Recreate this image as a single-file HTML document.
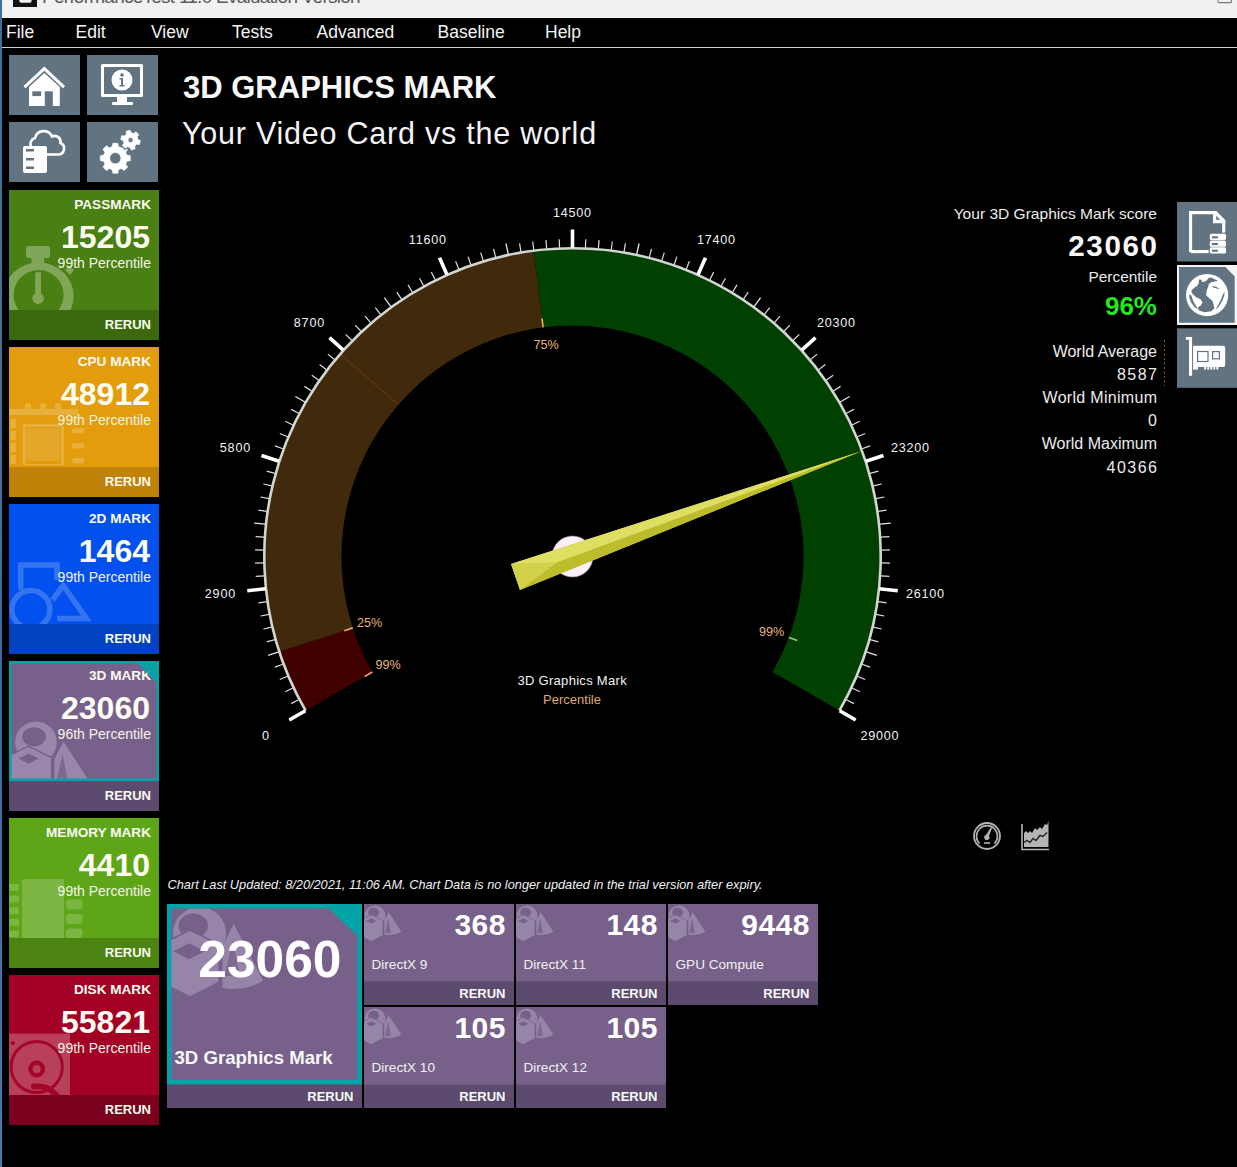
<!DOCTYPE html>
<html><head><meta charset="utf-8"><title>PerformanceTest - 3D Graphics Mark</title>
<style>html,body{margin:0;padding:0;background:#000;width:1237px;height:1167px;overflow:hidden}svg{display:block}</style></head><body>
<svg width="1237" height="1167" viewBox="0 0 1237 1167" font-family='"Liberation Sans", Arial, sans-serif'>
<defs>
<linearGradient id="strip" x1="0" y1="0" x2="0" y2="1"><stop offset="0" stop-color="#3d6fa0"/><stop offset="0.3" stop-color="#4a6f95"/><stop offset="0.6" stop-color="#3a6aa0"/><stop offset="1" stop-color="#4a78a8"/></linearGradient>
<clipPath id="tc0"><rect x="9" y="190" width="150" height="120"/></clipPath>
<clipPath id="tc1"><rect x="9" y="347" width="150" height="120"/></clipPath>
<clipPath id="tc2"><rect x="9" y="504" width="150" height="120"/></clipPath>
<clipPath id="tc3"><rect x="9" y="661" width="150" height="120"/></clipPath>
<clipPath id="tc4"><rect x="9" y="818" width="150" height="120"/></clipPath>
<clipPath id="tc5"><rect x="9" y="975" width="150" height="120"/></clipPath>
</defs>
<rect width="1237" height="1167" fill="#000"/>
<rect x="0" y="0" width="2" height="1167" fill="url(#strip)"/>
<rect x="2" y="0" width="1235" height="18" fill="#f1f1f1"/>
<rect x="13" y="0" width="24" height="7" fill="#111"/>
<path d="M19.3 0 h12.3 v1.5 l-1.5 1.3 h-9.3 l-1.5 -1.3z" fill="#f0f0f0"/>
<text x="42" y="2.6" font-size="19" fill="#5a5a5a" letter-spacing="-0.75">PerformanceTest 11.0 Evaluation Version</text>
<rect x="1218" y="-1" width="13.5" height="3.6" rx="0.8" fill="none" stroke="#7a7a7a" stroke-width="1.1"/>
<rect x="2" y="18" width="1235" height="29" fill="#000"/>
<rect x="2" y="47" width="1235" height="1" fill="#d0d0d0"/>
<text x="6" y="38" font-size="17.5" fill="#f4f4f4">File</text>
<text x="75.5" y="38" font-size="17.5" fill="#f4f4f4">Edit</text>
<text x="151" y="38" font-size="17.5" fill="#f4f4f4">View</text>
<text x="232" y="38" font-size="17.5" fill="#f4f4f4">Tests</text>
<text x="316.5" y="38" font-size="17.5" fill="#f4f4f4">Advanced</text>
<text x="437.5" y="38" font-size="17.5" fill="#f4f4f4">Baseline</text>
<text x="545" y="38" font-size="17.5" fill="#f4f4f4">Help</text>
<rect x="9" y="55" width="71" height="60" fill="#627482"/>
<rect x="87" y="55" width="71" height="60" fill="#627482"/>
<rect x="9" y="122" width="71" height="60" fill="#627482"/>
<rect x="87" y="122" width="71" height="60" fill="#627482"/>
<g fill="#fff"><path d="M44.3 66.5 L23.5 86 L25.5 88.5 L44.3 71 L63 88.5 L65 86 Z"/><path d="M29 87 L44.3 73 L59.8 87 V106 H29 Z"/></g>
<path d="M25.5 88.5 L44.3 71 L63 88.5" fill="none" stroke="#627482" stroke-width="0.8" opacity="0.7"/>
<rect x="32.3" y="91.3" width="8.8" height="4.8" fill="#627482"/>
<rect x="44.8" y="91.3" width="8" height="14.7" fill="#627482"/>
<g fill="#fff"><rect x="101" y="64" width="42" height="33" rx="1.5"/><rect x="117" y="97" width="10" height="5"/><rect x="112" y="102" width="21" height="3" rx="1"/></g>
<rect x="104" y="67" width="36" height="27" fill="#627482"/>
<circle cx="122" cy="80" r="10.5" fill="#fff"/>
<circle cx="122" cy="75" r="1.8" fill="#627482"/><path d="M119.5 78 h3.5 v7 h1.5 v1.5 h-5 v-1.5 h1.5 v-5.5 h-1.5z" fill="#627482"/>
<path d="M31 147 A6.5 6.5 0 0 1 35 138 A9 9 0 0 1 52 136.5 A6 6 0 0 1 60.5 143 A6 6 0 0 1 58 154.5 H47" fill="none" stroke="#fff" stroke-width="2.6"/>
<rect x="23" y="146" width="24" height="27" rx="2" fill="#fff"/>
<rect x="26" y="149" width="8" height="2.5" fill="#627482"/>
<rect x="26" y="158" width="8" height="2.5" fill="#627482"/>
<rect x="26" y="166.5" width="8" height="2.5" fill="#627482"/>
<path d="M112.19,146.61 L112.79,143.21 L117.81,143.21 L118.41,146.61 L121.30,147.81 L124.13,145.83 L127.67,149.37 L125.69,152.20 L126.89,155.09 L130.29,155.69 L130.29,160.71 L126.89,161.31 L125.69,164.20 L127.67,167.03 L124.13,170.57 L121.30,168.59 L118.41,169.79 L117.81,173.19 L112.79,173.19 L112.19,169.79 L109.30,168.59 L106.47,170.57 L102.93,167.03 L104.91,164.20 L103.71,161.31 L100.31,160.71 L100.31,155.69 L103.71,155.09 L104.91,152.20 L102.93,149.37 L106.47,145.83 L109.30,147.81 Z M120.89999999999999,158.2 a5.6,5.6 0 1 0 -11.2,0 a5.6,5.6 0 1 0 11.2,0 Z" fill="#fff" fill-rule="evenodd" stroke="#fff" stroke-width="0.6" stroke-linejoin="round"/>
<path d="M126.46,133.97 L126.11,131.28 L130.08,130.21 L131.12,132.72 L133.84,133.45 L135.99,131.80 L138.90,134.71 L137.25,136.86 L137.98,139.58 L140.49,140.62 L139.42,144.59 L136.73,144.24 L134.74,146.23 L135.09,148.92 L131.12,149.99 L130.08,147.48 L127.36,146.75 L125.21,148.40 L122.30,145.49 L123.95,143.34 L123.22,140.62 L120.71,139.58 L121.78,135.61 L124.47,135.96 Z" fill="#627482" stroke="#627482" stroke-width="3" stroke-linejoin="round"/>
<path d="M126.46,133.97 L126.11,131.28 L130.08,130.21 L131.12,132.72 L133.84,133.45 L135.99,131.80 L138.90,134.71 L137.25,136.86 L137.98,139.58 L140.49,140.62 L139.42,144.59 L136.73,144.24 L134.74,146.23 L135.09,148.92 L131.12,149.99 L130.08,147.48 L127.36,146.75 L125.21,148.40 L122.30,145.49 L123.95,143.34 L123.22,140.62 L120.71,139.58 L121.78,135.61 L124.47,135.96 Z M133.1,140.1 a2.5,2.5 0 1 0 -5.0,0 a2.5,2.5 0 1 0 5.0,0 Z" fill="#fff" fill-rule="evenodd" stroke="#fff" stroke-width="0.6" stroke-linejoin="round"/>
<rect x="9" y="190" width="150" height="150" fill="#4a8013"/>
<rect x="9" y="310" width="150" height="30" fill="#3c690c"/>
<g clip-path="url(#tc0)">
<g fill="#fff" opacity="0.3"><rect x="26" y="246" width="24" height="12" rx="2.5"/><rect x="31.5" y="257" width="12.6" height="6"/><path fill-rule="evenodd" d="M3.6 296.3 a35 34 0 1 1 70 0 a35 34 0 1 1 -70 0 Z M13.6 295 a25 25 0 1 0 50 0 a25 25 0 1 0 -50 0 Z"/><path d="M65 270 l5 -4 l4 4 l-4 5z"/><path d="M35.2 272.3 h5.8 v21 a5.8 5.8 0 1 1 -5.8 0z"/></g>
</g>
<text x="151" y="209" font-size="13.6" fill="#fafaf0" font-weight="700" text-anchor="end">PASSMARK</text>
<text x="150" y="248.3" font-size="32" fill="#fcfcf2" font-weight="700" text-anchor="end">15205</text>
<text x="151" y="268" font-size="14" fill="#f4f4e8" text-anchor="end">99th Percentile</text>
<text x="151" y="329" font-size="13" fill="#fafaf0" font-weight="700" text-anchor="end">RERUN</text>
<rect x="9" y="347" width="150" height="150" fill="#e29c0c"/>
<rect x="9" y="467" width="150" height="30" fill="#c08208"/>
<g clip-path="url(#tc1)">
<g fill="#fff" opacity="0.2"><path fill-rule="evenodd" d="M22.7 427 a3 3 0 0 1 3 -3 h35.2 a3 3 0 0 1 3 3 v38 h-41.2z M25.7 427 v37 h35.2 v-37z"/><rect x="26.5" y="428" width="33.5" height="33" rx="2" opacity="0.6"/><rect x="24.7" y="403" width="6.2" height="10" rx="2.5"/><rect x="39.9" y="403" width="6.2" height="10" rx="2.5"/><rect x="55" y="403" width="6.2" height="10" rx="2.5"/><rect x="9" y="409" width="69" height="6"/><rect x="72" y="428" width="12.5" height="5.5" rx="2.5"/><rect x="72" y="443" width="12.5" height="5.5" rx="2.5"/><rect x="72" y="458" width="12.5" height="5.5" rx="2.5"/><rect x="10.3" y="419" width="5.5" height="9"/><rect x="10.3" y="431" width="5.5" height="9"/><rect x="10.3" y="443" width="5.5" height="9"/><rect x="10.3" y="455" width="5.5" height="9"/></g>
</g>
<text x="151" y="366" font-size="13.6" fill="#fafaf0" font-weight="700" text-anchor="end">CPU MARK</text>
<text x="150" y="405.3" font-size="32" fill="#fcfcf2" font-weight="700" text-anchor="end">48912</text>
<text x="151" y="425" font-size="14" fill="#f4f4e8" text-anchor="end">99th Percentile</text>
<text x="151" y="486" font-size="13" fill="#fafaf0" font-weight="700" text-anchor="end">RERUN</text>
<rect x="9" y="504" width="150" height="150" fill="#0251ee"/>
<rect x="9" y="624" width="150" height="30" fill="#0243c4"/>
<g clip-path="url(#tc2)">
<g fill="none" stroke="#fff" stroke-width="5.5" opacity="0.2"><path d="M20.7 590 V565 H57 V580"/><circle cx="30.9" cy="609.5" r="19"/><path d="M52.5 600 L63.2 585.5 L86.5 618.6 H57"/></g>
</g>
<text x="151" y="523" font-size="13.6" fill="#fafaf0" font-weight="700" text-anchor="end">2D MARK</text>
<text x="150" y="562.3" font-size="32" fill="#fcfcf2" font-weight="700" text-anchor="end">1464</text>
<text x="151" y="582" font-size="14" fill="#f4f4e8" text-anchor="end">99th Percentile</text>
<text x="151" y="643" font-size="13" fill="#fafaf0" font-weight="700" text-anchor="end">RERUN</text>
<rect x="9" y="661" width="150" height="150" fill="#77618b"/>
<rect x="9" y="781" width="150" height="30" fill="#5c4b6e"/>
<g clip-path="url(#tc3)">
<g><g transform="translate(14,725) scale(2.0)"><circle cx="11" cy="8.6" r="10.4" fill="#9887ab"/><ellipse cx="10" cy="5.9" rx="5.9" ry="4.8" fill="#77618b"/><path d="M-4.5 16.4 L7.2 10.6 L18.9 16.4 V31.5 L7.2 37.4 L-4.5 31.5 Z" fill="#9887ab" stroke="#77618b" stroke-width="0.7"/><path d="M2.2 16.8 L7.3 14.200000000000001 L12.399999999999999 16.8 L7.3 19.400000000000002 Z" fill="#77618b"/><path d="M24.7 8.2 L37.3 27.6 Q30.299999999999997 32.1 20.2 30.6 L20.2 17 Z" fill="#9887ab"/><path d="M24.3 14.5 L27.1 29 L21 29 Z" fill="#77618b" opacity="0.8"/><line x1="19.6" y1="16.5" x2="19.6" y2="32" stroke="#77618b" stroke-width="0.8"/></g></g>
</g>
<path d="M10.3 781 V662.3 H157.7 V781" fill="none" stroke="#02a5a7" stroke-width="2.6"/>
<rect x="9" y="778.5" width="150" height="2.6" fill="#02a5a7"/>
<text x="151" y="680" font-size="13.6" fill="#fafaf0" font-weight="700" text-anchor="end">3D MARK</text>
<path d="M135.5 661 H159 V685.5 Z" fill="#02a6a7" opacity="0.9"/>
<text x="150" y="719.3" font-size="32" fill="#fcfcf2" font-weight="700" text-anchor="end">23060</text>
<text x="151" y="739" font-size="14" fill="#f4f4e8" text-anchor="end">96th Percentile</text>
<text x="151" y="800" font-size="13" fill="#fafaf0" font-weight="700" text-anchor="end">RERUN</text>
<rect x="9" y="818" width="150" height="150" fill="#5ea618"/>
<rect x="9" y="938" width="150" height="30" fill="#4c8412"/>
<g clip-path="url(#tc4)">
<g fill="#fff" opacity="0.18"><rect x="22" y="879" width="42" height="62" rx="2.5"/><rect x="9" y="884.0" width="10" height="7" rx="1.5"/><rect x="9" y="895.6" width="10" height="7" rx="1.5"/><rect x="9" y="907.2" width="10" height="7" rx="1.5"/><rect x="9" y="918.8" width="10" height="7" rx="1.5"/><rect x="9" y="930.4" width="10" height="7" rx="1.5"/><rect x="66" y="899.5" width="16.5" height="10" rx="3.5"/><rect x="66" y="914.0" width="16.5" height="10" rx="3.5"/><rect x="66" y="928.5" width="16.5" height="10" rx="3.5"/></g>
</g>
<text x="151" y="837" font-size="13.6" fill="#fafaf0" font-weight="700" text-anchor="end">MEMORY MARK</text>
<text x="150" y="876.3" font-size="32" fill="#fcfcf2" font-weight="700" text-anchor="end">4410</text>
<text x="151" y="896" font-size="14" fill="#f4f4e8" text-anchor="end">99th Percentile</text>
<text x="151" y="957" font-size="13" fill="#fafaf0" font-weight="700" text-anchor="end">RERUN</text>
<rect x="9" y="975" width="150" height="150" fill="#a20025"/>
<rect x="9" y="1095" width="150" height="30" fill="#7a001e"/>
<g clip-path="url(#tc5)">
<rect x="9" y="1033.6" width="61" height="61.4" fill="#fff" opacity="0.25"/>
<g fill="none" stroke="#a20025" opacity="0.9"><circle cx="36.7" cy="1067" r="25.6" stroke-width="3"/><circle cx="36.7" cy="1069" r="6.2" stroke-width="4.4"/><path d="M34 1086.5 Q48 1085 57 1096" stroke-width="6" stroke-linecap="round"/></g>
<circle cx="12.8" cy="1043" r="2" fill="#a20025"/>
</g>
<text x="151" y="994" font-size="13.6" fill="#fafaf0" font-weight="700" text-anchor="end">DISK MARK</text>
<text x="150" y="1033.3" font-size="32" fill="#fcfcf2" font-weight="700" text-anchor="end">55821</text>
<text x="151" y="1053" font-size="14" fill="#f4f4e8" text-anchor="end">99th Percentile</text>
<text x="151" y="1114" font-size="13" fill="#fafaf0" font-weight="700" text-anchor="end">RERUN</text>
<text x="183" y="98" font-size="31" fill="#f8f8f8" font-weight="700">3D GRAPHICS MARK</text>
<text x="182" y="143.5" font-size="30.5" fill="#f4f4f4" letter-spacing="0.77">Your Video Card vs the world</text>
<path d="M306.20 710.25 A307.5 307.5 0 0 1 280.05 651.52 L352.81 627.88 A231 231 0 0 0 372.45 672.00 Z" fill="#410000"/>
<path d="M280.05 651.52 A307.5 307.5 0 0 1 533.69 251.46 L543.35 327.35 A231 231 0 0 0 352.81 627.88 Z" fill="#41290b"/>
<path d="M533.69 251.46 A307.5 307.5 0 0 1 838.80 710.25 L772.55 672.00 A231 231 0 0 0 543.35 327.35 Z" fill="#004000"/>
<line x1="398.43" y1="404.65" x2="340.78" y2="354.36" stroke="#6a3c14" stroke-width="1.0" stroke-linecap="butt"/>
<path d="M305.59 710.60 A308.2 308.2 0 1 1 839.41 710.60" fill="none" stroke="#d2d6d0" stroke-width="2.6"/>
<line x1="305.33" y1="710.75" x2="289.31" y2="720.00" stroke="#ffffff" stroke-width="3.6" stroke-linecap="butt"/>
<line x1="298.66" y1="699.66" x2="291.13" y2="703.60" stroke="#dedede" stroke-width="1.2" stroke-linecap="butt"/>
<line x1="292.91" y1="688.07" x2="285.22" y2="691.68" stroke="#dedede" stroke-width="1.2" stroke-linecap="butt"/>
<line x1="287.64" y1="676.24" x2="279.81" y2="679.54" stroke="#dedede" stroke-width="1.2" stroke-linecap="butt"/>
<line x1="282.88" y1="664.21" x2="274.91" y2="667.17" stroke="#dedede" stroke-width="1.2" stroke-linecap="butt"/>
<line x1="278.62" y1="651.99" x2="268.16" y2="655.39" stroke="#e4e4e4" stroke-width="1.3" stroke-linecap="butt"/>
<line x1="274.88" y1="639.60" x2="266.70" y2="641.88" stroke="#dedede" stroke-width="1.2" stroke-linecap="butt"/>
<line x1="271.66" y1="627.06" x2="263.39" y2="629.00" stroke="#dedede" stroke-width="1.2" stroke-linecap="butt"/>
<line x1="268.97" y1="614.40" x2="260.62" y2="615.99" stroke="#dedede" stroke-width="1.2" stroke-linecap="butt"/>
<line x1="266.81" y1="601.64" x2="258.41" y2="602.88" stroke="#dedede" stroke-width="1.2" stroke-linecap="butt"/>
<line x1="265.69" y1="588.75" x2="247.29" y2="590.68" stroke="#ffffff" stroke-width="3.6" stroke-linecap="butt"/>
<line x1="264.11" y1="575.90" x2="255.63" y2="576.44" stroke="#dedede" stroke-width="1.2" stroke-linecap="butt"/>
<line x1="263.57" y1="562.97" x2="255.07" y2="563.15" stroke="#dedede" stroke-width="1.2" stroke-linecap="butt"/>
<line x1="263.57" y1="550.03" x2="255.07" y2="549.85" stroke="#dedede" stroke-width="1.2" stroke-linecap="butt"/>
<line x1="264.11" y1="537.10" x2="255.63" y2="536.56" stroke="#dedede" stroke-width="1.2" stroke-linecap="butt"/>
<line x1="265.19" y1="524.20" x2="254.25" y2="523.05" stroke="#e4e4e4" stroke-width="1.3" stroke-linecap="butt"/>
<line x1="266.81" y1="511.36" x2="258.41" y2="510.12" stroke="#dedede" stroke-width="1.2" stroke-linecap="butt"/>
<line x1="268.97" y1="498.60" x2="260.62" y2="497.01" stroke="#dedede" stroke-width="1.2" stroke-linecap="butt"/>
<line x1="271.66" y1="485.94" x2="263.39" y2="484.00" stroke="#dedede" stroke-width="1.2" stroke-linecap="butt"/>
<line x1="274.88" y1="473.40" x2="266.70" y2="471.12" stroke="#dedede" stroke-width="1.2" stroke-linecap="butt"/>
<line x1="279.10" y1="461.17" x2="261.50" y2="455.45" stroke="#ffffff" stroke-width="3.6" stroke-linecap="butt"/>
<line x1="282.88" y1="448.79" x2="274.91" y2="445.83" stroke="#dedede" stroke-width="1.2" stroke-linecap="butt"/>
<line x1="287.64" y1="436.76" x2="279.81" y2="433.46" stroke="#dedede" stroke-width="1.2" stroke-linecap="butt"/>
<line x1="292.91" y1="424.93" x2="285.22" y2="421.32" stroke="#dedede" stroke-width="1.2" stroke-linecap="butt"/>
<line x1="298.66" y1="413.34" x2="291.13" y2="409.40" stroke="#dedede" stroke-width="1.2" stroke-linecap="butt"/>
<line x1="304.90" y1="402.00" x2="295.37" y2="396.50" stroke="#e4e4e4" stroke-width="1.3" stroke-linecap="butt"/>
<line x1="311.60" y1="390.93" x2="304.43" y2="386.37" stroke="#dedede" stroke-width="1.2" stroke-linecap="butt"/>
<line x1="318.76" y1="380.15" x2="311.79" y2="375.30" stroke="#dedede" stroke-width="1.2" stroke-linecap="butt"/>
<line x1="326.37" y1="369.68" x2="319.60" y2="364.54" stroke="#dedede" stroke-width="1.2" stroke-linecap="butt"/>
<line x1="334.41" y1="359.54" x2="327.86" y2="354.12" stroke="#dedede" stroke-width="1.2" stroke-linecap="butt"/>
<line x1="343.24" y1="350.07" x2="329.49" y2="337.69" stroke="#ffffff" stroke-width="3.6" stroke-linecap="butt"/>
<line x1="351.73" y1="340.30" x2="345.65" y2="334.36" stroke="#dedede" stroke-width="1.2" stroke-linecap="butt"/>
<line x1="360.97" y1="331.25" x2="355.16" y2="325.05" stroke="#dedede" stroke-width="1.2" stroke-linecap="butt"/>
<line x1="370.59" y1="322.59" x2="365.04" y2="316.15" stroke="#dedede" stroke-width="1.2" stroke-linecap="butt"/>
<line x1="380.57" y1="314.34" x2="375.29" y2="307.68" stroke="#dedede" stroke-width="1.2" stroke-linecap="butt"/>
<line x1="390.87" y1="306.51" x2="384.41" y2="297.61" stroke="#e4e4e4" stroke-width="1.3" stroke-linecap="butt"/>
<line x1="401.50" y1="299.13" x2="396.80" y2="292.05" stroke="#dedede" stroke-width="1.2" stroke-linecap="butt"/>
<line x1="412.43" y1="292.19" x2="408.03" y2="284.92" stroke="#dedede" stroke-width="1.2" stroke-linecap="butt"/>
<line x1="423.64" y1="285.72" x2="419.54" y2="278.27" stroke="#dedede" stroke-width="1.2" stroke-linecap="butt"/>
<line x1="435.11" y1="279.73" x2="431.33" y2="272.11" stroke="#dedede" stroke-width="1.2" stroke-linecap="butt"/>
<line x1="447.02" y1="274.67" x2="439.50" y2="257.77" stroke="#ffffff" stroke-width="3.6" stroke-linecap="butt"/>
<line x1="458.75" y1="269.20" x2="455.62" y2="261.30" stroke="#dedede" stroke-width="1.2" stroke-linecap="butt"/>
<line x1="470.88" y1="264.69" x2="468.08" y2="256.66" stroke="#dedede" stroke-width="1.2" stroke-linecap="butt"/>
<line x1="483.19" y1="260.69" x2="480.73" y2="252.55" stroke="#dedede" stroke-width="1.2" stroke-linecap="butt"/>
<line x1="495.65" y1="257.21" x2="493.54" y2="248.97" stroke="#dedede" stroke-width="1.2" stroke-linecap="butt"/>
<line x1="508.26" y1="254.25" x2="505.97" y2="243.49" stroke="#e4e4e4" stroke-width="1.3" stroke-linecap="butt"/>
<line x1="520.97" y1="251.83" x2="519.55" y2="243.45" stroke="#dedede" stroke-width="1.2" stroke-linecap="butt"/>
<line x1="533.77" y1="249.94" x2="532.71" y2="241.50" stroke="#dedede" stroke-width="1.2" stroke-linecap="butt"/>
<line x1="546.64" y1="248.58" x2="545.93" y2="240.11" stroke="#dedede" stroke-width="1.2" stroke-linecap="butt"/>
<line x1="559.56" y1="247.77" x2="559.20" y2="239.28" stroke="#dedede" stroke-width="1.2" stroke-linecap="butt"/>
<line x1="572.50" y1="248.00" x2="572.50" y2="229.50" stroke="#ffffff" stroke-width="3.6" stroke-linecap="butt"/>
<line x1="585.44" y1="247.77" x2="585.80" y2="239.28" stroke="#dedede" stroke-width="1.2" stroke-linecap="butt"/>
<line x1="598.36" y1="248.58" x2="599.07" y2="240.11" stroke="#dedede" stroke-width="1.2" stroke-linecap="butt"/>
<line x1="611.23" y1="249.94" x2="612.29" y2="241.50" stroke="#dedede" stroke-width="1.2" stroke-linecap="butt"/>
<line x1="624.03" y1="251.83" x2="625.45" y2="243.45" stroke="#dedede" stroke-width="1.2" stroke-linecap="butt"/>
<line x1="636.74" y1="254.25" x2="639.03" y2="243.49" stroke="#e4e4e4" stroke-width="1.3" stroke-linecap="butt"/>
<line x1="649.35" y1="257.21" x2="651.46" y2="248.97" stroke="#dedede" stroke-width="1.2" stroke-linecap="butt"/>
<line x1="661.81" y1="260.69" x2="664.27" y2="252.55" stroke="#dedede" stroke-width="1.2" stroke-linecap="butt"/>
<line x1="674.12" y1="264.69" x2="676.92" y2="256.66" stroke="#dedede" stroke-width="1.2" stroke-linecap="butt"/>
<line x1="686.25" y1="269.20" x2="689.38" y2="261.30" stroke="#dedede" stroke-width="1.2" stroke-linecap="butt"/>
<line x1="697.98" y1="274.67" x2="705.50" y2="257.77" stroke="#ffffff" stroke-width="3.6" stroke-linecap="butt"/>
<line x1="709.89" y1="279.73" x2="713.67" y2="272.11" stroke="#dedede" stroke-width="1.2" stroke-linecap="butt"/>
<line x1="721.36" y1="285.72" x2="725.46" y2="278.27" stroke="#dedede" stroke-width="1.2" stroke-linecap="butt"/>
<line x1="732.57" y1="292.19" x2="736.97" y2="284.92" stroke="#dedede" stroke-width="1.2" stroke-linecap="butt"/>
<line x1="743.50" y1="299.13" x2="748.20" y2="292.05" stroke="#dedede" stroke-width="1.2" stroke-linecap="butt"/>
<line x1="754.13" y1="306.51" x2="760.59" y2="297.61" stroke="#e4e4e4" stroke-width="1.3" stroke-linecap="butt"/>
<line x1="764.43" y1="314.34" x2="769.71" y2="307.68" stroke="#dedede" stroke-width="1.2" stroke-linecap="butt"/>
<line x1="774.41" y1="322.59" x2="779.96" y2="316.15" stroke="#dedede" stroke-width="1.2" stroke-linecap="butt"/>
<line x1="784.03" y1="331.25" x2="789.84" y2="325.05" stroke="#dedede" stroke-width="1.2" stroke-linecap="butt"/>
<line x1="793.27" y1="340.30" x2="799.35" y2="334.36" stroke="#dedede" stroke-width="1.2" stroke-linecap="butt"/>
<line x1="801.76" y1="350.07" x2="815.51" y2="337.69" stroke="#ffffff" stroke-width="3.6" stroke-linecap="butt"/>
<line x1="810.59" y1="359.54" x2="817.14" y2="354.12" stroke="#dedede" stroke-width="1.2" stroke-linecap="butt"/>
<line x1="818.63" y1="369.68" x2="825.40" y2="364.54" stroke="#dedede" stroke-width="1.2" stroke-linecap="butt"/>
<line x1="826.24" y1="380.15" x2="833.21" y2="375.30" stroke="#dedede" stroke-width="1.2" stroke-linecap="butt"/>
<line x1="833.40" y1="390.93" x2="840.57" y2="386.37" stroke="#dedede" stroke-width="1.2" stroke-linecap="butt"/>
<line x1="840.10" y1="402.00" x2="849.63" y2="396.50" stroke="#e4e4e4" stroke-width="1.3" stroke-linecap="butt"/>
<line x1="846.34" y1="413.34" x2="853.87" y2="409.40" stroke="#dedede" stroke-width="1.2" stroke-linecap="butt"/>
<line x1="852.09" y1="424.93" x2="859.78" y2="421.32" stroke="#dedede" stroke-width="1.2" stroke-linecap="butt"/>
<line x1="857.36" y1="436.76" x2="865.19" y2="433.46" stroke="#dedede" stroke-width="1.2" stroke-linecap="butt"/>
<line x1="862.12" y1="448.79" x2="870.09" y2="445.83" stroke="#dedede" stroke-width="1.2" stroke-linecap="butt"/>
<line x1="865.90" y1="461.17" x2="883.50" y2="455.45" stroke="#ffffff" stroke-width="3.6" stroke-linecap="butt"/>
<line x1="870.12" y1="473.40" x2="878.30" y2="471.12" stroke="#dedede" stroke-width="1.2" stroke-linecap="butt"/>
<line x1="873.34" y1="485.94" x2="881.61" y2="484.00" stroke="#dedede" stroke-width="1.2" stroke-linecap="butt"/>
<line x1="876.03" y1="498.60" x2="884.38" y2="497.01" stroke="#dedede" stroke-width="1.2" stroke-linecap="butt"/>
<line x1="878.19" y1="511.36" x2="886.59" y2="510.12" stroke="#dedede" stroke-width="1.2" stroke-linecap="butt"/>
<line x1="879.81" y1="524.20" x2="890.75" y2="523.05" stroke="#e4e4e4" stroke-width="1.3" stroke-linecap="butt"/>
<line x1="880.89" y1="537.10" x2="889.37" y2="536.56" stroke="#dedede" stroke-width="1.2" stroke-linecap="butt"/>
<line x1="881.43" y1="550.03" x2="889.93" y2="549.85" stroke="#dedede" stroke-width="1.2" stroke-linecap="butt"/>
<line x1="881.43" y1="562.97" x2="889.93" y2="563.15" stroke="#dedede" stroke-width="1.2" stroke-linecap="butt"/>
<line x1="880.89" y1="575.90" x2="889.37" y2="576.44" stroke="#dedede" stroke-width="1.2" stroke-linecap="butt"/>
<line x1="879.31" y1="588.75" x2="897.71" y2="590.68" stroke="#ffffff" stroke-width="3.6" stroke-linecap="butt"/>
<line x1="878.19" y1="601.64" x2="886.59" y2="602.88" stroke="#dedede" stroke-width="1.2" stroke-linecap="butt"/>
<line x1="876.03" y1="614.40" x2="884.38" y2="615.99" stroke="#dedede" stroke-width="1.2" stroke-linecap="butt"/>
<line x1="873.34" y1="627.06" x2="881.61" y2="629.00" stroke="#dedede" stroke-width="1.2" stroke-linecap="butt"/>
<line x1="870.12" y1="639.60" x2="878.30" y2="641.88" stroke="#dedede" stroke-width="1.2" stroke-linecap="butt"/>
<line x1="866.38" y1="651.99" x2="876.84" y2="655.39" stroke="#e4e4e4" stroke-width="1.3" stroke-linecap="butt"/>
<line x1="862.12" y1="664.21" x2="870.09" y2="667.17" stroke="#dedede" stroke-width="1.2" stroke-linecap="butt"/>
<line x1="857.36" y1="676.24" x2="865.19" y2="679.54" stroke="#dedede" stroke-width="1.2" stroke-linecap="butt"/>
<line x1="852.09" y1="688.07" x2="859.78" y2="691.68" stroke="#dedede" stroke-width="1.2" stroke-linecap="butt"/>
<line x1="846.34" y1="699.66" x2="853.87" y2="703.60" stroke="#dedede" stroke-width="1.2" stroke-linecap="butt"/>
<line x1="839.67" y1="710.75" x2="855.69" y2="720.00" stroke="#ffffff" stroke-width="3.6" stroke-linecap="butt"/>
<text x="265.9" y="739.7" font-size="12.6" fill="#f2f2f2" text-anchor="middle" letter-spacing="0.8">0</text>
<text x="220.4" y="597.5" font-size="12.6" fill="#f2f2f2" text-anchor="middle" letter-spacing="0.8">2900</text>
<text x="235.4" y="452" font-size="12.6" fill="#f2f2f2" text-anchor="middle" letter-spacing="0.8">5800</text>
<text x="309.4" y="327" font-size="12.6" fill="#f2f2f2" text-anchor="middle" letter-spacing="0.8">8700</text>
<text x="427.9" y="243.5" font-size="12.6" fill="#f2f2f2" text-anchor="middle" letter-spacing="0.8">11600</text>
<text x="572.4" y="216.5" font-size="12.6" fill="#f2f2f2" text-anchor="middle" letter-spacing="0.8">14500</text>
<text x="716.4" y="243.5" font-size="12.6" fill="#f2f2f2" text-anchor="middle" letter-spacing="0.8">17400</text>
<text x="836.4" y="327" font-size="12.6" fill="#f2f2f2" text-anchor="middle" letter-spacing="0.8">20300</text>
<text x="910.4" y="452" font-size="12.6" fill="#f2f2f2" text-anchor="middle" letter-spacing="0.8">23200</text>
<text x="925.4" y="597.5" font-size="12.6" fill="#f2f2f2" text-anchor="middle" letter-spacing="0.8">26100</text>
<text x="879.9" y="739.7" font-size="12.6" fill="#f2f2f2" text-anchor="middle" letter-spacing="0.8">29000</text>
<line x1="352.81" y1="627.88" x2="344.25" y2="630.66" stroke="#e9a66a" stroke-width="1.6" stroke-linecap="butt"/>
<line x1="372.45" y1="672.00" x2="364.65" y2="676.50" stroke="#e9a66a" stroke-width="1.6" stroke-linecap="butt"/>
<line x1="543.15" y1="327.37" x2="542.00" y2="318.45" stroke="#e0b050" stroke-width="1.6" stroke-linecap="butt"/>
<line x1="788.87" y1="637.40" x2="797.30" y2="640.55" stroke="#9ccc7c" stroke-width="1.6" stroke-linecap="butt"/>
<text x="369.5" y="627" font-size="12.6" fill="#e8b47a" text-anchor="middle">25%</text>
<text x="388" y="668.5" font-size="12.6" fill="#e8b47a" text-anchor="middle">99%</text>
<text x="546" y="349" font-size="12.6" fill="#e8b47a" text-anchor="middle">75%</text>
<text x="771.5" y="635.5" font-size="12.6" fill="#e8b47a" text-anchor="middle">99%</text>
<text x="572.2" y="684.5" font-size="13" fill="#f2f2f2" text-anchor="middle" letter-spacing="0.3">3D Graphics Mark</text>
<text x="572" y="704" font-size="13" fill="#dcaa72" text-anchor="middle">Percentile</text>
<circle cx="572.5" cy="556.5" r="20.5" fill="#fcf0fc" stroke="#b080b0" stroke-width="0.6"/>
<path d="M511 564 L862 451 L520 590 Z" fill="#c8c83c"/>
<path d="M511 564 L862 451 L557 562.5 Z" fill="#dede62"/>
<path d="M520 590 L862 451 L557 562.5 Z" fill="#bcbc2c"/>
<path d="M511 564 L557 562.5 L520 590 Z" fill="#d2d24a"/>
<text x="1157" y="219" font-size="15.55" fill="#ececec" text-anchor="end">Your 3D Graphics Mark score</text>
<text x="1158.6" y="256.4" font-size="29.6" fill="#f8f8f8" font-weight="700" text-anchor="end" letter-spacing="1.6">23060</text>
<text x="1157" y="282" font-size="15.4" fill="#ececec" text-anchor="end">Percentile</text>
<text x="1157" y="315" font-size="26" fill="#24e624" font-weight="700" text-anchor="end">96%</text>
<text x="1157" y="357.2" font-size="16" fill="#ececec" text-anchor="end">World Average</text>
<text x="1158.5" y="380.4" font-size="16" fill="#ececec" text-anchor="end" letter-spacing="1.5">8587</text>
<text x="1157.3" y="403.2" font-size="16" fill="#ececec" text-anchor="end" letter-spacing="0.3">World Minimum</text>
<text x="1157" y="426.3" font-size="16" fill="#ececec" text-anchor="end">0</text>
<text x="1157" y="449.4" font-size="16" fill="#ececec" text-anchor="end">World Maximum</text>
<text x="1158.5" y="472.5" font-size="16" fill="#ececec" text-anchor="end" letter-spacing="1.5">40366</text>
<line x1="1164.5" y1="340" x2="1164.5" y2="386" stroke="#c07040" stroke-width="1" stroke-dasharray="2 2.5" opacity="0.8"/>
<rect x="1177" y="202" width="60" height="59.5" fill="#627482"/>
<rect x="1177" y="265" width="60" height="60" fill="#f4f4f4"/>
<path d="M1179 267 H1225.4 L1234.7 276.5 V322.8 H1179 Z" fill="#627482"/>
<rect x="1177" y="328.3" width="60" height="59.5" fill="#627482"/>
<path d="M1190.6 252 V212.6 H1215.5 L1223.7 221 V236" fill="none" stroke="#fff" stroke-width="3.1" stroke-linejoin="miter"/>
<path d="M1190.6 251.6 H1210" fill="none" stroke="#fff" stroke-width="3.1"/>
<path d="M1213 211 H1216 L1225.2 220.5 V223.2 H1213 Z" fill="#fff"/>
<path d="M1216.2 215.8 L1220.2 219.8 H1216.2 Z" fill="#627482"/>
<rect x="1208.6" y="232.6" width="18.4" height="22" fill="#627482"/>
<rect x="1209.8" y="233.8" width="16.2" height="6.3" rx="1.6" fill="#fff"/>
<rect x="1209.8" y="240.5" width="16.2" height="6.3" rx="1.6" fill="#fff"/>
<rect x="1209.8" y="247.2" width="16.2" height="6.3" rx="1.6" fill="#fff"/>
<rect x="1211.9" y="236.3" width="6" height="2.1" fill="#627482"/>
<rect x="1211.9" y="243" width="6" height="2.1" fill="#627482"/>
<rect x="1211.9" y="249.7" width="6" height="2.1" fill="#627482"/>
<circle cx="1207.1" cy="295.1" r="21.1" fill="#fff"/>
<g transform="translate(1180,268) scale(0.04885)" fill="#627482"><path d="M390 235 L440 240 L455 290 L540 262 L590 200 L640 195 L780 268 L700 275 L645 300 L590 330 L575 390 L545 470 L535 560 L600 620 L655 660 L685 730 L700 830 L640 885 L500 905 L380 865 L365 810 L430 760 L460 700 L420 640 L330 600 L245 515 L232 462 L300 400 L360 360 L385 300 Z"/><path d="M188 545 L232 565 L272 680 L342 800 L362 845 L300 805 L228 705 L192 610 Z"/><path d="M912 490 L905 565 L870 665 L800 785 L720 855 L778 760 L838 650 L878 545 Z"/><path d="M650 365 L720 378 L800 412 L792 432 L718 410 L660 388 Z"/></g>
<path d="M1210 283 c2 -2 5 -1 6 1 c-1 2 -3 3 -6 2 z" fill="#fff"/>
<path d="M1185.9 337 H1192.1 V375.8 H1189 V339.8 H1185.9 Z" fill="#fff"/>
<path d="M1193.1 345.7 H1223.2 a2 2 0 0 1 2 2 V365 a2 2 0 0 1 -2 2 H1193.1 Z" fill="#fff"/>
<path d="M1193.1 366 H1198 V369.6 H1193.1 Z" fill="#fff"/>
<rect x="1204.2" y="366.5" width="1.9" height="3.1" fill="#fff"/>
<rect x="1207.25" y="366.5" width="1.9" height="3.1" fill="#fff"/>
<rect x="1210.3" y="366.5" width="1.9" height="3.1" fill="#fff"/>
<rect x="1213.3500000000001" y="366.5" width="1.9" height="3.1" fill="#fff"/>
<rect x="1216.4" y="366.5" width="1.9" height="3.1" fill="#fff"/>
<rect x="1197.6" y="351.5" width="10.4" height="10" fill="none" stroke="#627482" stroke-width="1.2"/>
<rect x="1212.6" y="351.6" width="6.8" height="7.2" fill="none" stroke="#627482" stroke-width="1.2"/>
<text x="167.5" y="888.7" font-size="12.75" fill="#f0f0f0" font-style="italic">Chart Last Updated: 8/20/2021, 11:06 AM. Chart Data is no longer updated in the trial version after expiry.</text>
<g fill="none" stroke="#b4b4b4"><circle cx="987" cy="836" r="13" stroke-width="1.8"/><path d="M979.6 843.6 A10.5 10.5 0 1 1 994.4 843.6" stroke-width="1.6"/><line x1="984" y1="843" x2="990" y2="843" stroke-width="1.6"/></g>
<path d="M986 835 L991 827 L992 828 L989 836 a2.6 2.6 0 1 1 -3 -1z" fill="#b4b4b4"/>
<path d="M1022 824 V849.5 H1049" fill="none" stroke="#b4b4b4" stroke-width="1.6"/>
<path d="M1024 833 l2 -2 l2 2 l2 -2 l2 2 l3 -5 l2 2 l3 -3 l2 2 l3 -5 l2 1 l1.5 -4 V847 H1024 z" fill="#b4b4b4"/>
<path d="M1024 842.5 l3 -2 l3 2 l3 -4 l3 2 l4 -5 l3 1 l4 -4" fill="none" stroke="#2a2a2a" stroke-width="1.5"/>
<rect x="167" y="904" width="195" height="204" fill="#77618b"/>
<rect x="167" y="1084" width="195" height="24" fill="#5c4b6e"/>
<defs><clipPath id="bigc"><rect x="171" y="908.5" width="187" height="175.5"/></clipPath></defs>
<g clip-path="url(#bigc)"><g transform="translate(172,903.5) scale(2.5)"><circle cx="11" cy="12" r="10.6" fill="#9685a8"/><ellipse cx="8.5" cy="8.9" rx="5.9" ry="4.9" fill="#77618b"/><path d="M-4.5 16.4 L7.2 10.6 L18.9 16.4 V31.5 L7.2 37.4 L-4.5 31.5 Z" fill="#9685a8" stroke="#77618b" stroke-width="0.7"/><path d="M0.5 19.1 L6.8 15.900000000000002 L13.1 19.1 L6.8 22.3 Z" fill="#77618b"/><path d="M24.7 8.2 L36.4 30.8 Q29.4 35.3 20.2 33.8 L20.2 17 Z" fill="#9685a8"/><path d="M24.3 14.5 L27.1 29 L21 29 Z" fill="#77618b" opacity="0.8"/><line x1="19.6" y1="16.5" x2="19.6" y2="32" stroke="#77618b" stroke-width="0.8"/></g></g>
<path d="M169.25 1084 V906.25 H359.75 V1084" fill="none" stroke="#02a5a7" stroke-width="4.5"/>
<rect x="167" y="1080" width="195" height="4.5" fill="#02a5a7"/>
<path d="M329 908.5 H357.5 V936 Z" fill="#02a5a7"/>
<text x="341.5" y="977.3" font-size="51.5" fill="#ffffff" font-weight="700" text-anchor="end">23060</text>
<text x="174.5" y="1063.8" font-size="18.6" fill="#f8f8f8" font-weight="700">3D Graphics Mark</text>
<text x="353.5" y="1101" font-size="13" fill="#f8f8f8" font-weight="700" text-anchor="end">RERUN</text>
<rect x="364" y="904" width="150" height="101" fill="#77618b"/>
<rect x="364" y="981.5" width="150" height="23.5" fill="#5c4b6e"/>
<clipPath id="sc00"><rect x="364" y="904" width="150" height="77.5"/></clipPath>
<g clip-path="url(#sc00)"><g transform="translate(364,904) scale(1)"><circle cx="11" cy="12" r="10.5" fill="#9585a7"/><ellipse cx="9.6" cy="8.6" rx="5.4" ry="4.8" fill="#77618b"/><path d="M-4.5 16.4 L7.2 10.6 L18.9 16.4 V31.5 L7.2 37.4 L-4.5 31.5 Z" fill="#9585a7" stroke="#77618b" stroke-width="0.7"/><path d="M2.2 16.8 L7.3 14.200000000000001 L12.399999999999999 16.8 L7.3 19.400000000000002 Z" fill="#77618b"/><path d="M24.7 8.2 L37.3 27.6 Q30.299999999999997 32.1 20.2 30.6 L20.2 17 Z" fill="#9585a7"/><path d="M24.3 14.5 L27.1 29 L21 29 Z" fill="#77618b" opacity="0.8"/><line x1="19.6" y1="16.5" x2="19.6" y2="32" stroke="#77618b" stroke-width="0.8"/></g></g>
<text x="506" y="934.5" font-size="30" fill="#ffffff" font-weight="700" text-anchor="end" letter-spacing="0.5">368</text>
<text x="371.5" y="969.3" font-size="13.6" fill="#f0f0f0">DirectX 9</text>
<text x="505.5" y="998.3" font-size="13" fill="#f8f8f8" font-weight="700" text-anchor="end">RERUN</text>
<rect x="516" y="904" width="150" height="101" fill="#77618b"/>
<rect x="516" y="981.5" width="150" height="23.5" fill="#5c4b6e"/>
<clipPath id="sc10"><rect x="516" y="904" width="150" height="77.5"/></clipPath>
<g clip-path="url(#sc10)"><g transform="translate(516,904) scale(1)"><circle cx="11" cy="12" r="10.5" fill="#9585a7"/><ellipse cx="9.6" cy="8.6" rx="5.4" ry="4.8" fill="#77618b"/><path d="M-4.5 16.4 L7.2 10.6 L18.9 16.4 V31.5 L7.2 37.4 L-4.5 31.5 Z" fill="#9585a7" stroke="#77618b" stroke-width="0.7"/><path d="M2.2 16.8 L7.3 14.200000000000001 L12.399999999999999 16.8 L7.3 19.400000000000002 Z" fill="#77618b"/><path d="M24.7 8.2 L37.3 27.6 Q30.299999999999997 32.1 20.2 30.6 L20.2 17 Z" fill="#9585a7"/><path d="M24.3 14.5 L27.1 29 L21 29 Z" fill="#77618b" opacity="0.8"/><line x1="19.6" y1="16.5" x2="19.6" y2="32" stroke="#77618b" stroke-width="0.8"/></g></g>
<text x="658" y="934.5" font-size="30" fill="#ffffff" font-weight="700" text-anchor="end" letter-spacing="0.5">148</text>
<text x="523.5" y="969.3" font-size="13.6" fill="#f0f0f0">DirectX 11</text>
<text x="657.5" y="998.3" font-size="13" fill="#f8f8f8" font-weight="700" text-anchor="end">RERUN</text>
<rect x="668" y="904" width="150" height="101" fill="#77618b"/>
<rect x="668" y="981.5" width="150" height="23.5" fill="#5c4b6e"/>
<clipPath id="sc20"><rect x="668" y="904" width="150" height="77.5"/></clipPath>
<g clip-path="url(#sc20)"><g transform="translate(668,904) scale(1)"><circle cx="11" cy="12" r="10.5" fill="#9585a7"/><ellipse cx="9.6" cy="8.6" rx="5.4" ry="4.8" fill="#77618b"/><path d="M-4.5 16.4 L7.2 10.6 L18.9 16.4 V31.5 L7.2 37.4 L-4.5 31.5 Z" fill="#9585a7" stroke="#77618b" stroke-width="0.7"/><path d="M2.2 16.8 L7.3 14.200000000000001 L12.399999999999999 16.8 L7.3 19.400000000000002 Z" fill="#77618b"/><path d="M24.7 8.2 L37.3 27.6 Q30.299999999999997 32.1 20.2 30.6 L20.2 17 Z" fill="#9585a7"/><path d="M24.3 14.5 L27.1 29 L21 29 Z" fill="#77618b" opacity="0.8"/><line x1="19.6" y1="16.5" x2="19.6" y2="32" stroke="#77618b" stroke-width="0.8"/></g></g>
<text x="810" y="934.5" font-size="30" fill="#ffffff" font-weight="700" text-anchor="end" letter-spacing="0.5">9448</text>
<text x="675.5" y="969.3" font-size="13.6" fill="#f0f0f0">GPU Compute</text>
<text x="809.5" y="998.3" font-size="13" fill="#f8f8f8" font-weight="700" text-anchor="end">RERUN</text>
<rect x="364" y="1007" width="150" height="101" fill="#77618b"/>
<rect x="364" y="1084.5" width="150" height="23.5" fill="#5c4b6e"/>
<clipPath id="sc01"><rect x="364" y="1007" width="150" height="77.5"/></clipPath>
<g clip-path="url(#sc01)"><g transform="translate(364,1007) scale(1)"><circle cx="11" cy="12" r="10.5" fill="#9585a7"/><ellipse cx="9.6" cy="8.6" rx="5.4" ry="4.8" fill="#77618b"/><path d="M-4.5 16.4 L7.2 10.6 L18.9 16.4 V31.5 L7.2 37.4 L-4.5 31.5 Z" fill="#9585a7" stroke="#77618b" stroke-width="0.7"/><path d="M2.2 16.8 L7.3 14.200000000000001 L12.399999999999999 16.8 L7.3 19.400000000000002 Z" fill="#77618b"/><path d="M24.7 8.2 L37.3 27.6 Q30.299999999999997 32.1 20.2 30.6 L20.2 17 Z" fill="#9585a7"/><path d="M24.3 14.5 L27.1 29 L21 29 Z" fill="#77618b" opacity="0.8"/><line x1="19.6" y1="16.5" x2="19.6" y2="32" stroke="#77618b" stroke-width="0.8"/></g></g>
<text x="506" y="1037.5" font-size="30" fill="#ffffff" font-weight="700" text-anchor="end" letter-spacing="0.5">105</text>
<text x="371.5" y="1072.3" font-size="13.6" fill="#f0f0f0">DirectX 10</text>
<text x="505.5" y="1101.3" font-size="13" fill="#f8f8f8" font-weight="700" text-anchor="end">RERUN</text>
<rect x="516" y="1007" width="150" height="101" fill="#77618b"/>
<rect x="516" y="1084.5" width="150" height="23.5" fill="#5c4b6e"/>
<clipPath id="sc11"><rect x="516" y="1007" width="150" height="77.5"/></clipPath>
<g clip-path="url(#sc11)"><g transform="translate(516,1007) scale(1)"><circle cx="11" cy="12" r="10.5" fill="#9585a7"/><ellipse cx="9.6" cy="8.6" rx="5.4" ry="4.8" fill="#77618b"/><path d="M-4.5 16.4 L7.2 10.6 L18.9 16.4 V31.5 L7.2 37.4 L-4.5 31.5 Z" fill="#9585a7" stroke="#77618b" stroke-width="0.7"/><path d="M2.2 16.8 L7.3 14.200000000000001 L12.399999999999999 16.8 L7.3 19.400000000000002 Z" fill="#77618b"/><path d="M24.7 8.2 L37.3 27.6 Q30.299999999999997 32.1 20.2 30.6 L20.2 17 Z" fill="#9585a7"/><path d="M24.3 14.5 L27.1 29 L21 29 Z" fill="#77618b" opacity="0.8"/><line x1="19.6" y1="16.5" x2="19.6" y2="32" stroke="#77618b" stroke-width="0.8"/></g></g>
<text x="658" y="1037.5" font-size="30" fill="#ffffff" font-weight="700" text-anchor="end" letter-spacing="0.5">105</text>
<text x="523.5" y="1072.3" font-size="13.6" fill="#f0f0f0">DirectX 12</text>
<text x="657.5" y="1101.3" font-size="13" fill="#f8f8f8" font-weight="700" text-anchor="end">RERUN</text>
</svg>
</body></html>
